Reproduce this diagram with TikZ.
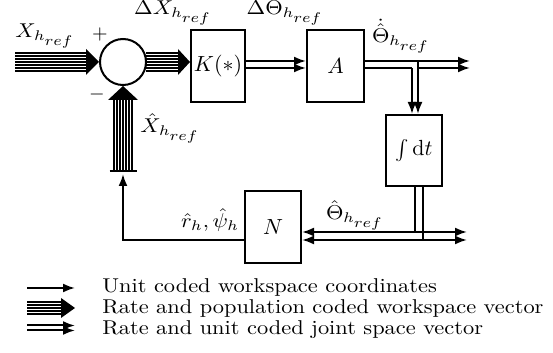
\documentclass[tikz,border=0pt]{standalone}
\usepackage{fontspec}
\usepackage{graphicx}
\usetikzlibrary{arrows.meta,calc}
\newcommand{\stretchtxt}[1]{\scalebox{1.12}[1]{#1}}
\newcommand{\hsubref}{h_{\scriptstyle ref}}
\begin{document}
\begin{tikzpicture}[x=0.5pt,y=-0.5pt,
  box/.style={draw,line width=1pt,minimum width=27pt,minimum height=36pt,inner sep=0pt,font=\fontsize{10.95}{13}\selectfont},
  lbl/.style={inner sep=0pt,font=\fontsize{10}{12}\selectfont},
  sig/.style={line width=1pt,-{Latex[length=6pt,width=4.5pt]}},
  sigb/.style={line width=1pt,{Latex[length=6pt,width=4.5pt]}-{Latex[length=6pt,width=4.5pt]}},
  wire/.style={line width=1pt},
  strand/.style={line width=1.1pt},
  ]
\useasboundingbox (0,0) rectangle (553,353);

% blocks
\node[draw,circle,line width=1pt,minimum size=23pt,inner sep=0pt] (sum) at (123,62) {};
\node[box] (K) at (218,66) {$K(*)$};
\node[box,minimum width=28.5pt] (A) at (335.5,66) {$A$};
\node[box,minimum width=28pt,minimum height=35.5pt] (I) at (414,150.5) {$\int\mathrm{d}t$};
\node[box,minimum width=28pt] (N) at (273,227) {$N$};

% helper coordinates
\coordinate (in) at (15,62);
\coordinate (out1) at (470,0);
\coordinate (out2) at (467,0);
\coordinate (bar) at (123,171);
\coordinate (ra) at (0,61);
\coordinate (rb) at (0,68);
\coordinate (rc) at (0,232);
\coordinate (rd) at (0,240);
\coordinate (ca) at (412,0);
\coordinate (cb) at (418,0);
\coordinate (cc) at (415,0);
\coordinate (cd) at (423,0);

% input bundle
\foreach \d in {-9,-6,...,9}
  \draw[strand] ($(in)+(0,\d)$) -- ($(sum.west)+(-10,\d)$);
\fill ($(sum.west)+(-13,-13)$) -- (sum.west) -- ($(sum.west)+(-13,13)$) -- cycle;

% output bundle to K
\coordinate (kin) at (K.west|-sum.east);
\foreach \d in {-9,-6,...,9}
  \draw[strand] ($(sum.east)+(-1,\d)$) -- ($(kin)+(-10,\d)$);
\fill ($(kin)+(-12,-13)$) -- (kin) -- ($(kin)+(-12,13)$) -- cycle;

% feedback bundle into sum
\draw[line width=1.2pt] ($(bar)+(-13.5,0)$) -- ($(bar)+(13.5,0)$);
\foreach \d in {-9,-6,...,9}
  \draw[strand] ($(bar)+(\d,0)$) -- ($(sum.south)+(\d,12)$);
\fill ($(sum.south)+(-15,14)$) -- (sum.south) -- ($(sum.south)+(15,14)$) -- cycle;

% N -> sum (single)
\draw[sig] (N.west|-rd) -| ($(bar)+(0,3)$);

% K -> A
\draw[sig] (K.east|-ra) -- (A.west|-ra);
\draw[sig] (K.east|-rb) -- (A.west|-rb);

% A out and branch to integrator
\draw[sig] (A.east|-ra) -- (out1|-ra);
\draw[wire] (A.east|-rb) -- (ca|-rb);
\draw[sig] (cb|-rb) -- (out1|-rb);
\draw[sig] (ca|-rb) -- (ca|-I.north);
\draw[sig] (cb|-ra) -- (cb|-I.north);

% integrator out
\draw[wire] (cc|-I.south) -- (cc|-rc);
\draw[wire] (cd|-I.south) -- (cd|-rd);
\draw[sigb] (N.east|-rc) -- (out2|-rc);
\draw[sigb] (N.east|-rd) -- (out2|-rd);

% labels
\node[lbl] (lx) at (45,36) {\stretchtxt{$X_{\hsubref}$}};
\node[lbl] (plus) at (100,35) {$+$};
\node[lbl] (minus) at (97,95) {$-$};
\node[lbl] (ldx) at (173,13) {\stretchtxt{$\Delta X_{\hsubref}$}};
\node[lbl] (ldt) at (285,13) {\stretchtxt{$\Delta\Theta_{\hsubref}$}};
\node[lbl] (lthd) at (401,36) {\stretchtxt{$\dot{\hat{\Theta}}_{\hsubref}$}};
\node[lbl] (lxh) at (170,128) {\stretchtxt{$\hat X_{\hsubref}$}};
\node[lbl] (lrp) at (210,220) {\stretchtxt{$\hat r_h,\hat\psi_h$}};
\node[lbl] (lth) at (355,215) {\stretchtxt{$\hat\Theta_{\hsubref}$}};

% legend
\coordinate (l1a) at (27,288);
\coordinate (l1b) at (75,288);
\draw[sig] (l1a) -- (l1b);
\coordinate (l2a) at (27,308);
\coordinate (l2b) at (75,308);
\foreach \d in {-6,-3,...,6}
  \draw[strand] ($(l2a)+(0,\d)$) -- ($(l2b)+(-12,\d)$);
\fill ($(l2b)+(-14,-10)$) -- (l2b) -- ($(l2b)+(-14,10)$) -- cycle;
\coordinate (l3a) at (27,328);
\coordinate (l3b) at (75,328);
\draw[sig] ($(l3a)+(0,-2.5)$) -- ($(l3b)+(0,-2.5)$);
\draw[sig] ($(l3a)+(0,2.5)$) -- ($(l3b)+(0,2.5)$);

\node[lbl,anchor=base west] (t1) at (102,293) {\stretchtxt{Unit coded workspace coordinates}};
\node[lbl,anchor=base west] (t2) at (102,314) {\stretchtxt{Rate and population coded workspace vector}};
\node[lbl,anchor=base west] (t3) at (102,335) {\stretchtxt{Rate and unit coded joint space vector}};
\end{tikzpicture}
\end{document}
